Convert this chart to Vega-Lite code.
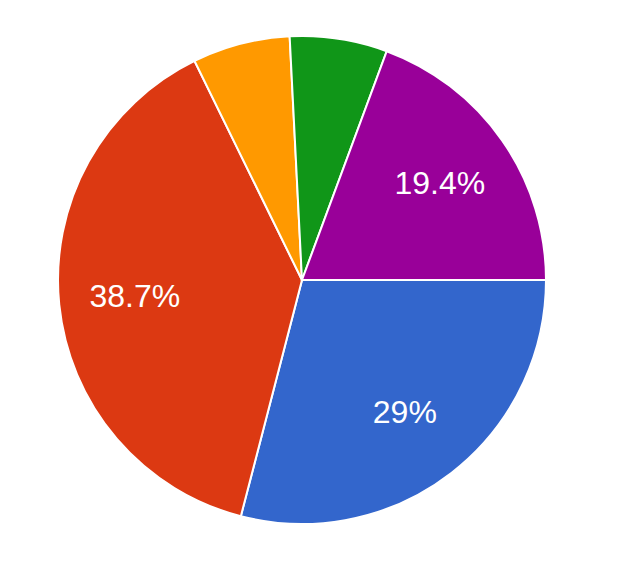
{
  "$schema": "https://vega.github.io/schema/vega-lite/v6.json",
  "width": 620,
  "height": 576,
  "autosize": {"type": "fit", "contains": "padding"},
  "padding": {"left": 0, "top": 0, "right": 16, "bottom": 16},
  "background": "white",
  "view": {"stroke": null},
  "data": {
    "values": [
      {"answer": "A", "count": 9, "idx": 1, "label": "29%"},
      {"answer": "B", "count": 12, "idx": 2, "label": "38.7%"},
      {"answer": "C", "count": 2, "idx": 3, "label": ""},
      {"answer": "D", "count": 2, "idx": 4, "label": ""},
      {"answer": "E", "count": 6, "idx": 5, "label": "19.4%"}
    ]
  },
  "encoding": {
    "theta": {"field": "count", "type": "quantitative", "stack": true, "scale": {"range": [1.5707963, 7.8539816]}},
    "order": {"field": "idx", "type": "quantitative", "sort": "ascending"}
  },
  "layer": [
    {
      "mark": {"type": "arc", "outerRadius": 244, "stroke": "white", "strokeWidth": 2},
      "encoding": {
        "color": {
          "field": "answer",
          "type": "nominal",
          "scale": {"domain": ["A", "B", "C", "D", "E"], "range": ["#3366cc", "#dc3912", "#ff9900", "#109618", "#990099"]},
          "legend": null
        }
      }
    },
    {
      "mark": {"type": "text", "radius": 168, "fontSize": 32, "font": "Liberation Sans", "fill": "white", "align": "center", "baseline": "middle"},
      "encoding": {
        "text": {"field": "label", "type": "nominal"}
      }
    }
  ]
}
